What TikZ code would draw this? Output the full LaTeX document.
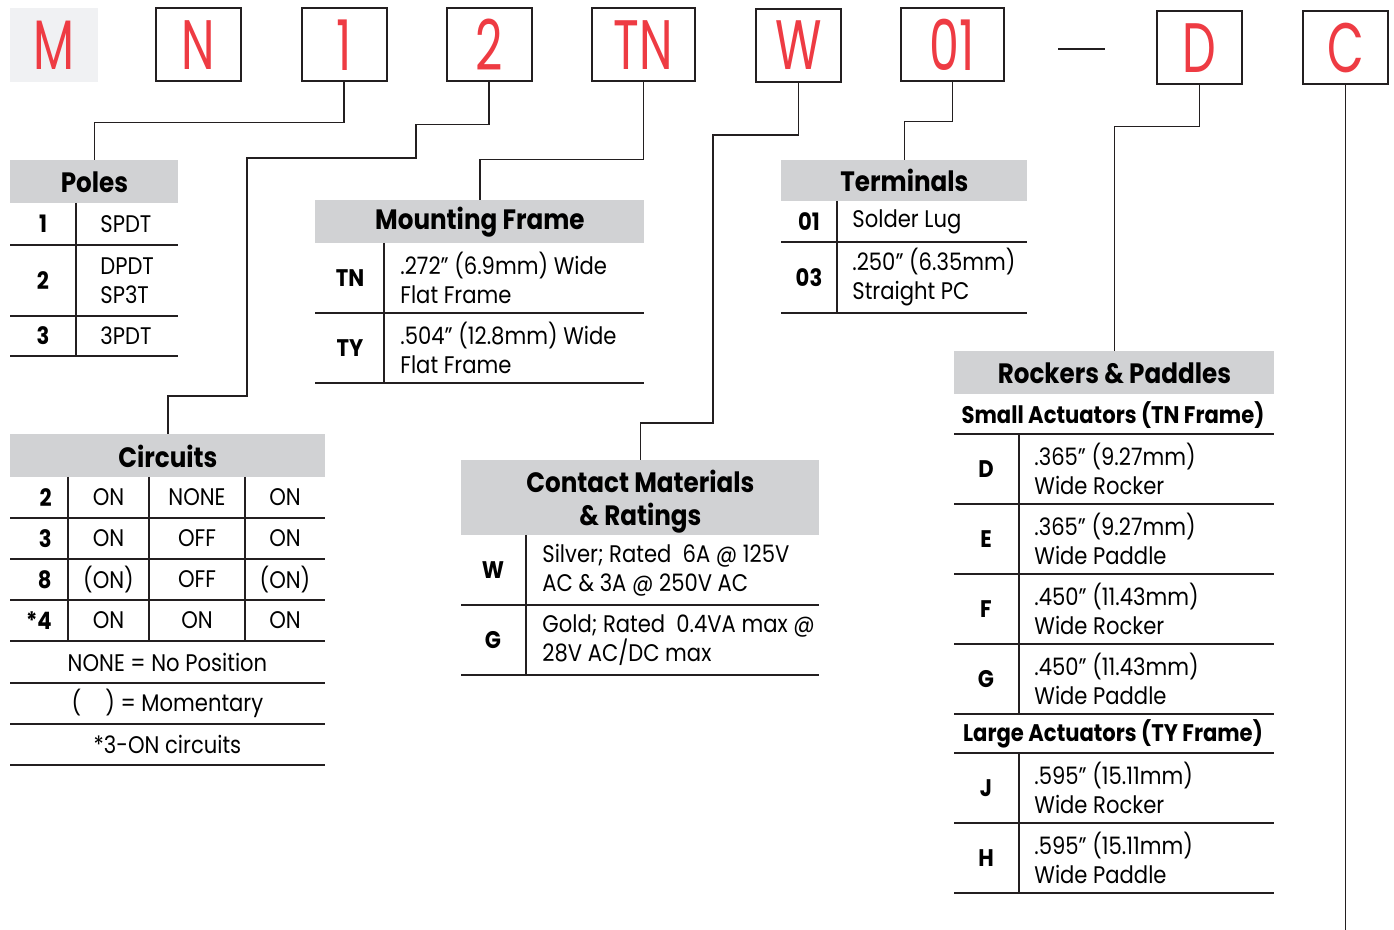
\documentclass[tikz,border=0pt]{standalone}
\usepackage{fontspec}
\setmainfont[FakeStretch=0.88]{Poppins}
\newfontfamily\codefont[FakeStretch=0.68]{Poppins}
\usetikzlibrary{positioning, calc}
\definecolor{CodeRed}{RGB}{238,59,67}
\definecolor{HeadGray}{RGB}{209,210,212}
\definecolor{PaleGray}{RGB}{240,241,243}
\definecolor{InkColor}{RGB}{35,31,32}
\newcommand{\txtfont}{\fontsize{12}{14.5}\selectfont}
\newcommand{\hdfont}{\fontsize{14}{16.5}\selectfont\bfseries}
\newcommand{\keyfont}{\fontsize{12}{14}\selectfont\bfseries}
\newcommand{\subfont}{\fontsize{12}{14}\selectfont\bfseries}
\tikzset{
  codebox/.style={draw=InkColor, line width=1pt, minimum width=42.5pt, minimum height=36.5pt,
    inner sep=0pt, text=CodeRed, font=\codefont\fontsize{35}{35}\selectfont},
  headcell/.style={fill=HeadGray, inner sep=0pt, anchor=north west, font=\hdfont, align=center},
  keycell/.style={inner sep=0pt, font=\keyfont},
  txtcell/.style={inner sep=0pt, anchor=west, align=left, font=\txtfont},
  midcell/.style={inner sep=0pt, font=\txtfont},
  rule/.style={InkColor, line width=0.7pt},
  link/.style={InkColor, line width=0.6pt},
}

\begin{document}
\begin{tikzpicture}[x=0.5pt, y=-0.5pt]
  \useasboundingbox (0,0) rectangle (1394,930);
  % Part number boxes
  \node[codebox, draw=none, fill=PaleGray, minimum width=44pt, minimum height=37pt] (bM) at (54,45) {M};
  \node[codebox] (bN) at (198.5,45) {N};
  \node[codebox] (b1) at (344,45) {1};
  \node[codebox] (b2) at (489,45) {2};
  \node[codebox, minimum width=51.5pt] (bTN) at (643.5,45) {TN};
  \node[codebox] (bW) at (798.5,45.5) {W};
  \node[codebox, minimum width=51.5pt] (b01) at (952.5,45) {01};
  \node[codebox] (bD) at (1199.5,48) {D};
  \node[codebox] (bC) at (1345.5,48) {C};
  \draw[InkColor, line width=1.2pt] (1058,49) -- (1105,49);

  % Headers
  \node[headcell, minimum width=84pt, minimum height=21.5pt] (poles) at (10,160) {Poles};
  \node[headcell, minimum width=164.5pt, minimum height=21.5pt] (mount) at (315,200) {Mounting Frame};
  \node[headcell, minimum width=123pt, minimum height=20.5pt] (term) at (781,160) {Terminals};
  \node[headcell, minimum width=157.5pt, minimum height=21.5pt] (circ) at (10,434) {Circuits};
  \node[headcell, minimum width=179pt, minimum height=37.5pt, text depth=0pt] (cont) at (461,460) {Contact Materials\\\& Ratings};
  \node[headcell, minimum width=160pt, minimum height=21.5pt] (rock) at (954,351) {Rockers \& Paddles};

  % Links
  \coordinate (cEnd) at (1345.5,930);
  \draw[link] (b1.south) -- ++(0,40) -| (poles.north);
  \draw[link] (b2.south) -- ++(0,42) -| (416,158) -| (247,396) -| (circ.north);
  \draw[link] (bTN.south) -- ++(0,77) -| (mount.north);
  \draw[link] (bW.south) -- ++(0,52) -| (713,423) -| (cont.north);
  \draw[link] (b01.south) -- ++(0,39) -| (term.north);
  \draw[link] (bD.south) -- ++(0,41) -| (rock.north);
  \draw[link] (bC.south) -- (cEnd);

  % Poles
  \foreach \y in {245,316,356} {\draw[rule] (10,\y) -- (178,\y);}
  \draw[rule] (76,203) -- (76,356);
  \node[keycell] (p1) at (43,224) {1};
  \node[txtcell] (p1t) at (100,224) {SPDT};
  \node[keycell] (p2) at (43,280.5) {2};
  \node[txtcell] (p2t) at (100,280.5) {DPDT\\SP3T};
  \node[keycell] (p3) at (43,336) {3};
  \node[txtcell] (p3t) at (100,336) {3PDT};

  % Mounting frame
  \foreach \y in {313,383} {\draw[rule] (315,\y) -- (644,\y);}
  \draw[rule] (384,243) -- (384,383);
  \node[keycell] (mTN) at (350,278) {TN};
  \node[txtcell] (mTNt) at (400,278) {.272” (6.9mm) Wide\\Flat Frame};
  \node[keycell] (mTY) at (350,348) {TY};
  \node[txtcell] (mTYt) at (400,348) {.504” (12.8mm) Wide\\Flat Frame};

  % Terminals
  \foreach \y in {242,313} {\draw[rule] (781,\y) -- (1027,\y);}
  \draw[rule] (837,201) -- (837,313);
  \node[keycell] (t01) at (809,221.5) {01};
  \node[txtcell] (t01t) at (852,221.5) {Solder Lug};
  \node[keycell] (t03) at (809,277.5) {03};
  \node[txtcell] (t03t) at (852,277.5) {.250” (6.35mm)\\Straight PC};

  % Circuits
  \foreach \y in {518,559,600,641,683,724,765} {\draw[rule] (10,\y) -- (325,\y);}
  \foreach \x in {68,149,245} {\draw[rule] (\x,477) -- (\x,641);}
  \foreach \y/\k/\a/\b/\c [count=\i] in {497.5/2/ON/NONE/ON, 538.5/3/ON/OFF/ON,
      579.5/8/{(ON)}/OFF/{(ON)}, 620.5/{*4}/ON/ON/ON} {
    \node[keycell, anchor=east] (c\i-k) at (52,\y) {\k};
    \node[midcell] (c\i-a) at (108.5,\y) {\a};
    \node[midcell] (c\i-b) at (197,\y) {\b};
    \node[midcell] (c\i-c) at (285,\y) {\c};
  }
  \node[midcell] (nNone) at (167.5,662) {NONE = No Position};
  \node[midcell] (nMom) at (167.5,703.5) {(\quad) = Momentary};
  \node[midcell] (nStar) at (167.5,744.5) {*3-ON circuits};

  % Contact materials
  \foreach \y in {605,675} {\draw[rule] (461,\y) -- (819,\y);}
  \draw[rule] (526,535) -- (526,675);
  \node[keycell] (kW) at (493,570) {W};
  \node[txtcell] (kWt) at (542,570) {Silver; Rated~ 6A @ 125V\\AC \& 3A @ 250V AC};
  \node[keycell] (kG) at (493,640) {G};
  \node[txtcell] (kGt) at (542,640) {Gold; Rated~ 0.4VA max @\\28V AC/DC max};

  % Rockers and paddles
  \node[inner sep=0pt, font=\subfont] (small) at (1113,415) {Small Actuators (TN Frame)};
  \node[inner sep=0pt, font=\subfont] (large) at (1113,734) {Large Actuators (TY Frame)};
  \foreach \y in {434,504,574,644,714,753,823,893} {\draw[rule] (954,\y) -- (1274,\y);}
  \draw[rule] (1019,434) -- (1019,714);
  \draw[rule] (1019,753) -- (1019,893);
  \foreach \y/\k/\l/\m in {469/D/{.365” (9.27mm)}/Wide Rocker, 539/E/{.365” (9.27mm)}/Wide Paddle,
      609/F/{.450” (11.43mm)}/Wide Rocker, 679/G/{.450” (11.43mm)}/Wide Paddle,
      788/J/{.595” (15.11mm)}/Wide Rocker, 858/H/{.595” (15.11mm)}/Wide Paddle} {
    \node[keycell] (r\k) at (986,\y) {\k};
    \node[txtcell] (r\k t) at (1034,\y) {\l\\\m};
  }
\end{tikzpicture}
\end{document}
